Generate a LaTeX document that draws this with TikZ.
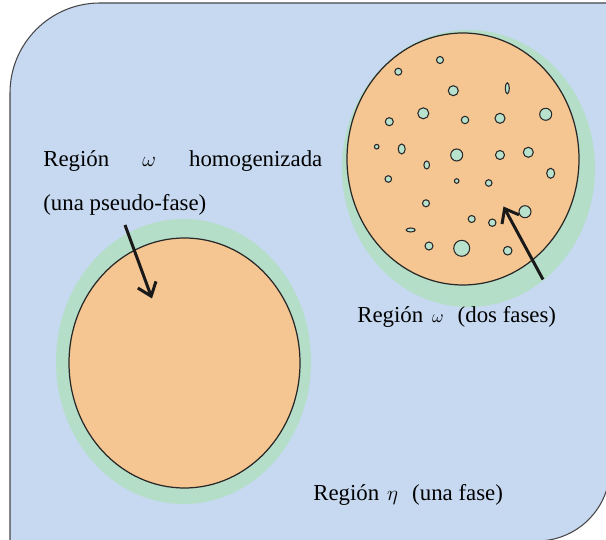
\documentclass[tikz,border=0pt]{standalone}
\usepackage{fontspec}
\setmainfont{Liberation Serif}
\usepackage{tikz}
\usetikzlibrary{positioning, arrows.meta}
\definecolor{paneBlue}{RGB}{198,217,240}
\definecolor{paneLine}{RGB}{70,70,72}
\definecolor{haloGreen}{RGB}{180,222,200}
\definecolor{phaseOrange}{RGB}{245,197,146}
\definecolor{bubbleGreen}{RGB}{184,226,206}
\definecolor{inkGray}{RGB}{40,40,40}
\tikzset{Pane/.style={%
    draw=paneLine,%
    fill=paneBlue,%
    line width=0.6pt,%
}}
\tikzset{Halo/.style={%
    fill=haloGreen,%
}}
\tikzset{Phase/.style={%
    draw=inkGray,%
    fill=phaseOrange,%
    line width=0.7pt,%
}}
\tikzset{Bubble/.style={%
    draw=inkGray,%
    fill=bubbleGreen,%
    line width=0.6pt,%
}}
\tikzset{Pointer/.style={%
    -{Straight Barb[length=7pt,width=11pt]},%
    line width=1.7pt,%
    draw=black!90,%
}}
\tikzset{RegionText/.style={%
    inner sep=0pt,%
    anchor=base west,%
    font=\fontsize{13}{15}\selectfont,%
}}
\NewDocumentCommand{\bubble}{m m m o}{%
    \IfValueTF{#4}{%
        \draw[Bubble] (#1,-#2) ellipse [x radius=#3, y radius=#4];%
    }{%
        \draw[Bubble] (#1,-#2) circle [radius=#3];%
    }%
}

\begin{document}
\begin{tikzpicture}[x=0.02cm, y=0.02cm]
    \useasboundingbox (0,0) rectangle (606,-540);
    \clip (0,0) rectangle (606,-540);
    \draw[Pane] (10,-542) -- (10,-93) arc[start angle=180, end angle=90, radius=90]
        -- (650,-3) -- (650,-486.9) -- (607.5,-486.9)
        arc[start angle=-15, end angle=-90, radius=73] -- cycle;

    % homogenized region
    \fill[Halo] (183.5,-361.5) ellipse [x radius=127.5, y radius=142.5];
    \draw[Phase] (184.5,-363) ellipse [x radius=115.5, y radius=125];

    % two-phase region
    \fill[Halo] (468.5,-168.5) ellipse [x radius=126.5, y radius=138.5];
    \draw[Phase] (463,-159) ellipse [x radius=116, y radius=126];
    \bubble{398.3}{71.7}{3.5}
    \bubble{440}{60}{3.5}
    \bubble{453.3}{90.7}{5}
    \bubble{507.3}{88.3}{2}[5.5]
    \bubble{389.3}{121.7}{4}
    \bubble{423.3}{113.3}{5.5}
    \bubble{465}{120}{3.7}
    \bubble{500}{118.3}{5}
    \bubble{545.7}{114.3}{6}
    \bubble{376.7}{146.7}{2.3}
    \bubble{401.7}{149}{3.5}[5]
    \bubble{456.7}{155}{6}
    \bubble{500}{155}{4.5}
    \bubble{528.3}{152.3}{5}
    \bubble{426.7}{165}{2.8}[4]
    \bubble{550.7}{173.3}{4}[5]
    \bubble{388.3}{179}{3.3}
    \bubble{456.7}{181}{2.3}
    \bubble{488.7}{183}{3.3}
    \bubble{426}{203.3}{3.5}
    \bubble{525}{211.7}{6}
    \bubble{471.7}{219}{3.5}
    \bubble{492.3}{222.7}{3.7}
    \bubble{410.7}{230}{4.5}[2]
    \bubble{429}{246}{4}
    \bubble{461.7}{248.3}{8}
    \bubble{507.7}{250.7}{4.3}

    \coordinate (pseudoTail) at (125,-225);
    \coordinate (pseudoTip) at (152,-298.5);
    \coordinate (twoTail) at (543,-279.5);
    \coordinate (twoTip) at (503.5,-206.5);
    \path (pseudoTail) edge[Pointer] (pseudoTip);
    \path (twoTail) edge[Pointer] (twoTip);

    \node[RegionText, text width=5.58cm] (homTitle) at (43,-166.7)
        {Región\hfill{\fontsize{12}{12}\selectfont$\omega$}\hfill homogenizada};
    \node[RegionText, below=25pt of homTitle.base west, anchor=base west] (homNote)
        {(una pseudo-fase)};
    \node[RegionText] (twoLabel) at (357,-322.7)
        {Región\hspace{5pt}{\fontsize{10}{10}\selectfont$\omega$}\hspace{8pt}(dos fases)};
    \node[RegionText] (oneLabel) at (313,-500.7)
        {Región\hspace{4.5pt}{\fontsize{12}{12}\selectfont$\eta$}\hspace{8pt}(una fase)};
\end{tikzpicture}
\end{document}
